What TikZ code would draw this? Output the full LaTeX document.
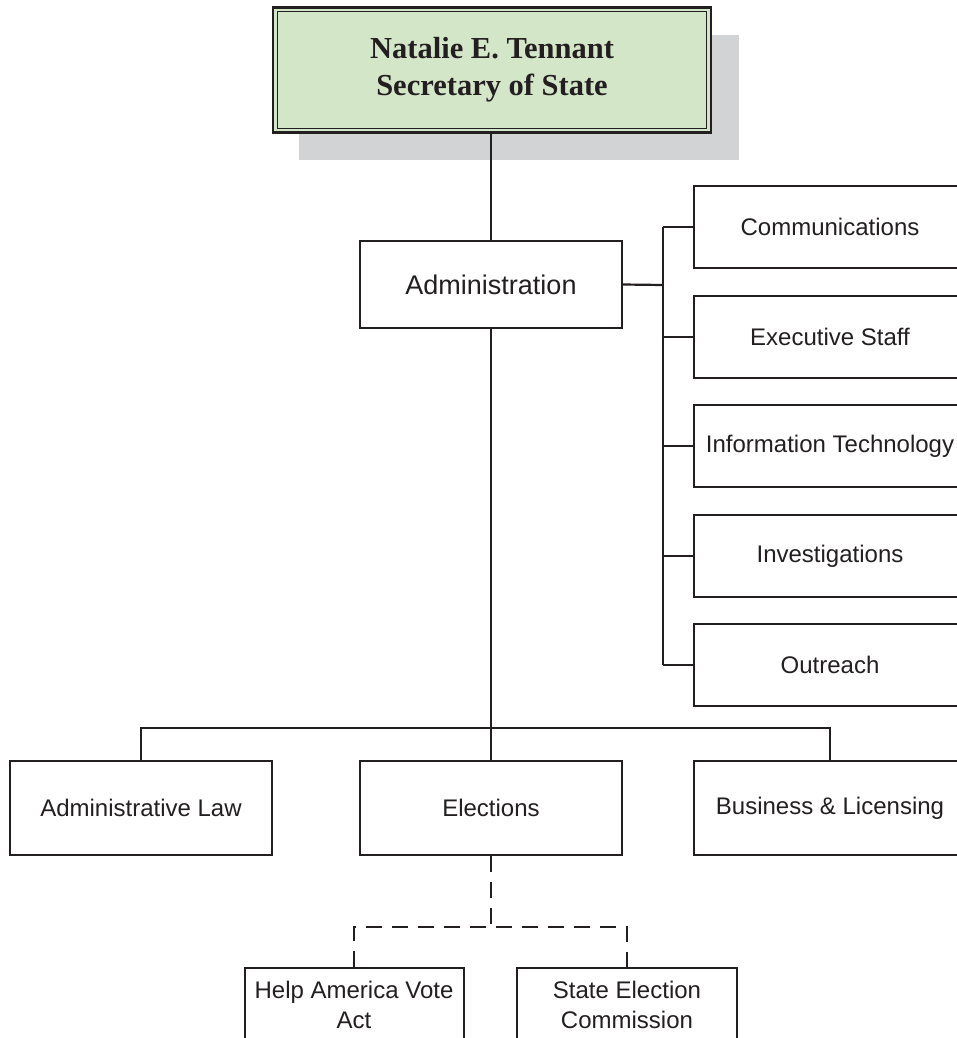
\documentclass[tikz,border=0pt]{standalone}
\usepackage{fontspec}
\setmainfont{Liberation Sans}
\newfontfamily\titlefont{Liberation Serif}
\definecolor{ink}{RGB}{35,31,32}
\definecolor{titlegreen}{RGB}{212,230,200}
\definecolor{shadowgray}{RGB}{209,211,212}
\begin{document}
\begin{tikzpicture}[x=1pt,y=-1pt,
  line width=2pt, draw=ink,
  unit/.style={draw=ink, line width=2pt, fill=white, rectangle, inner sep=0pt,
    text=ink, align=center, font=\fontsize{24}{30}\selectfont},
  sidebox/.style={unit, minimum width=272pt, minimum height=82pt},
  midbox/.style={unit, minimum width=262pt, minimum height=94pt},
  link/.style={draw=ink, line width=2.2pt},
  dlink/.style={draw=ink, line width=2.2pt, dash pattern=on 16pt off 10pt}
]
\clip (0,0) rectangle (957,1038);
\useasboundingbox (0,0) rectangle (957,1038);
% shadow of the title box
\fill[shadowgray] (299,35) rectangle (739,160);
% title
\node[draw=ink, line width=2.5pt, fill=titlegreen, rectangle, inner sep=0pt,
      minimum width=438pt, minimum height=125pt, text=ink, align=center,
      font=\titlefont\bfseries\fontsize{30.5}{37}\selectfont]
      (title) at (492,70) {Natalie E. Tennant\\Secretary of State};
\draw[draw=ink, line width=1.2pt] ([shift={(5.5,5.5)}]title.north west) rectangle ([shift={(-5.5,-5.5)}]title.south east);

% administration
\node[unit, minimum width=262pt, minimum height=87pt, font=\fontsize{27}{32}\selectfont]
      (admin) at (491,284.5) {Administration};

% right column
\node[sidebox] (comm) at (830,227) {Communications};
\node[sidebox] (exec) at (830,337) {Executive Staff};
\node[sidebox] (it)   at (830,446) {Information Technology};
\node[sidebox] (inv)  at (830,556) {Investigations};
\node[sidebox] (out)  at (830,665) {Outreach};

% middle row
\node[midbox] (law)  at (141,808) {Administrative Law};
\node[midbox] (elec) at (491,808) {Elections};
\node[sidebox, minimum height=94pt] (biz) at (830,808) {Business \& Licensing};

% bottom row
\node[unit, minimum width=219pt, minimum height=164pt, anchor=north] (hava) at (354,967)
      {Help America Vote\\Act\\[60pt]\mbox{}};
\node[unit, minimum width=220pt, minimum height=164pt, anchor=north] (sec) at (627,967)
      {State Election\\Commission\\[60pt]\mbox{}};

% connectors
\draw[link] (title.south -| admin.north) -- (admin.north);
\draw[link] (admin.south) -- (elec.north);

\coordinate (busA) at (663,285);
\coordinate (busTop) at (663,227);
\coordinate (busBot) at (663,665);
\draw[link] (admin.east) -- (busA);
\draw[link] (busTop) -- (busBot);
\draw[link] (busTop) -- (comm.west);
\draw[link] (663,337) -- (exec.west);
\draw[link] (663,446) -- (it.west);
\draw[link] (663,556) -- (inv.west);
\draw[link] (busBot) -- (out.west);

\coordinate (hl) at (141,728);
\coordinate (hr) at (830,728);
\draw[link] (law.north) -- (hl) -- (hr) -- (biz.north);

\coordinate (dj) at (491,927);
\coordinate (dl) at (354,927);
\coordinate (dr) at (627,927);
\draw[dlink] (elec.south) -- (dj);
\draw[dlink] (hava.north) -- (dl) -- (dr) -- (sec.north);
\end{tikzpicture}
\end{document}
